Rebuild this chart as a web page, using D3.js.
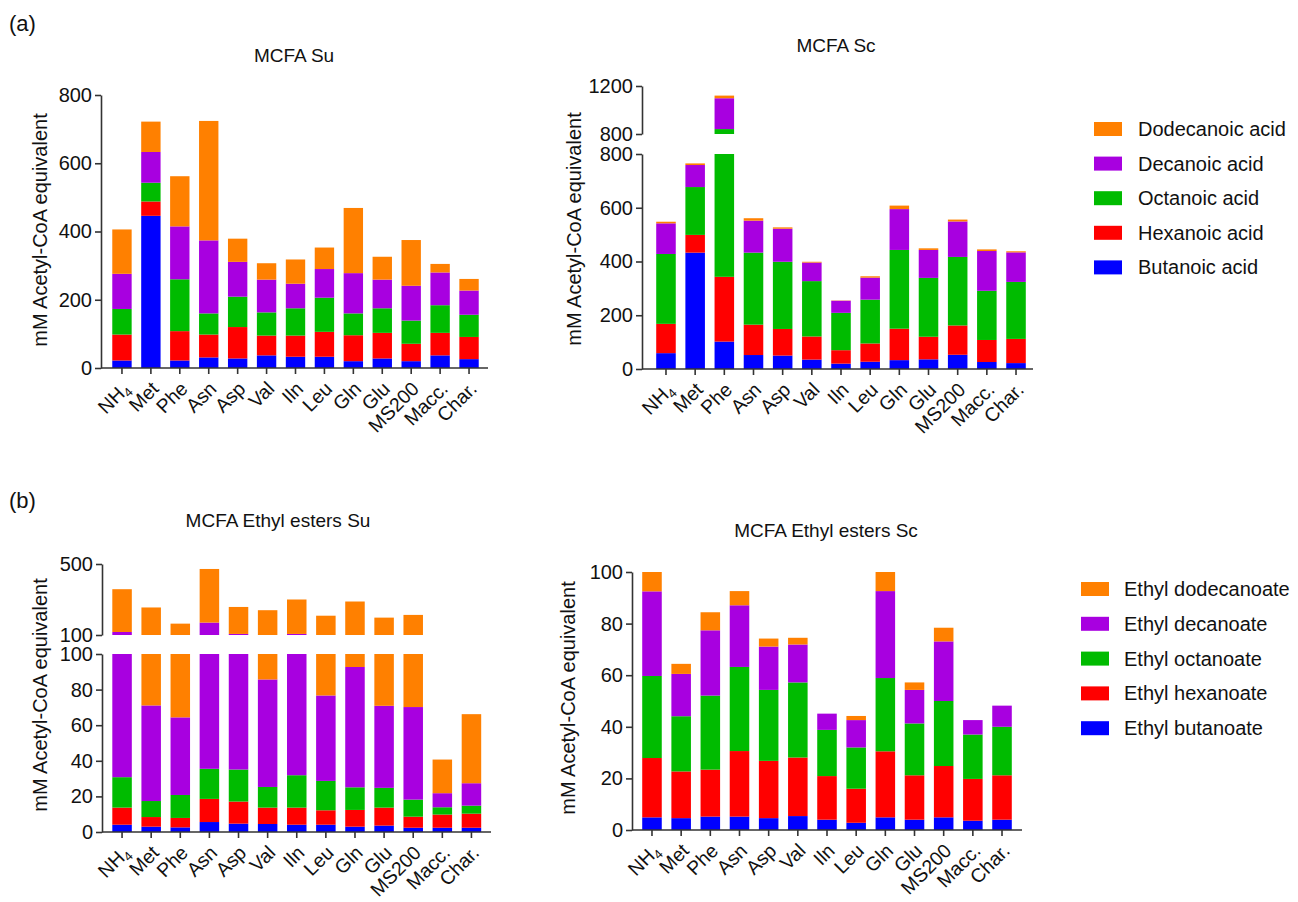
<!DOCTYPE html>
<html>
<head>
<meta charset="utf-8">
<script src="https://cdn.jsdelivr.net/npm/d3@7"></script>
<style>
  html, body { margin: 0; padding: 0; background: #fff; }
  svg { display: block; font-family: Arial, "Liberation Sans", sans-serif; }
</style>
</head>
<body>
<svg id="chart" width="1298" height="902"></svg>
<script>
// ---------------- DATA ----------------
const categories = ["NH4", "Met", "Phe", "Asn", "Asp", "Val", "Iln", "Leu", "Gln", "Glu", "MS200", "Macc.", "Char."];

const acidSeries = ["Butanoic acid", "Hexanoic acid", "Octanoic acid", "Decanoic acid", "Dodecanoic acid"];
const esterSeries = ["Ethyl butanoate", "Ethyl hexanoate", "Ethyl octanoate", "Ethyl decanoate", "Ethyl dodecanoate"];
const seriesColors = ["#0000ff", "#ff0000", "#00bb00", "#a800e0", "#ff8000"];

// (a) MCFA Su (segment values, bottom to top)
const suButanoic  = [22, 446, 22, 31, 28, 37, 33, 33, 20, 28, 20, 37, 26];
const suHexanoic  = [76, 42, 86, 67, 92, 58, 62, 73, 76, 75, 51, 66, 65];
const suOctanoic  = [75, 55, 152, 62, 89, 68, 80, 100, 64, 72, 68, 81, 65];
const suDecanoic  = [103, 90, 155, 214, 102, 96, 72, 84, 118, 84, 102, 96, 71];
const suDodecanoic = [130, 89, 147, 350, 68, 48, 71, 63, 191, 67, 134, 25, 34];

// (a) MCFA Sc
const scButanoic  = [59, 433, 102, 52, 50, 35, 20, 27, 33, 36, 53, 26, 22];
const scHexanoic  = [109, 66, 241, 113, 99, 86, 50, 68, 117, 84, 109, 82, 90];
const scOctanoic  = [260, 178, 498, 268, 250, 206, 139, 163, 293, 219, 255, 183, 212];
const scDecanoic  = [114, 82, 257, 119, 123, 69, 45, 82, 152, 104, 132, 148, 110];
const scDodecanoic = [6, 6, 22, 9, 5, 3, 1, 5, 13, 6, 7, 6, 4];

// (b) MCFA Ethyl esters Su
const esuButanoate  = [4.1, 3.0, 2.6, 5.6, 4.7, 4.5, 4.1, 4.1, 3.0, 3.6, 2.4, 2.4, 2.4];
const esuHexanoate  = [9.6, 5.4, 5.3, 13.0, 12.4, 9.2, 9.6, 8.1, 9.4, 10.1, 6.2, 7.4, 7.9];
const esuOctanoate  = [17.1, 9.0, 12.9, 16.9, 18.0, 11.6, 18.2, 16.5, 12.7, 11.1, 9.6, 4.1, 4.5];
const esuDecanoate  = [86.2, 53.7, 43.6, 134.5, 70.9, 60.4, 74.1, 48.0, 67.6, 46.1, 52.0, 7.9, 12.6];
const esuDodecanoate = [241, 184, 99.6, 302, 152, 154, 194, 132, 196, 127, 143, 18.9, 38.8];

// (b) MCFA Ethyl esters Sc
const escButanoate  = [4.9, 4.6, 5.2, 5.2, 4.6, 5.4, 4.0, 2.8, 4.9, 4.0, 4.9, 3.6, 4.0];
const escHexanoate  = [23.0, 18.1, 18.2, 25.4, 22.2, 22.7, 16.9, 13.2, 25.6, 17.2, 19.9, 16.2, 17.2];
const escOctanoate  = [31.8, 21.4, 28.7, 32.6, 27.5, 29.1, 17.9, 16.0, 28.4, 20.1, 25.2, 17.2, 18.8];
const escDecanoate  = [32.8, 16.4, 25.3, 23.9, 16.8, 14.7, 6.3, 10.6, 33.7, 13.0, 23.1, 5.6, 8.2];
const escDodecanoate = [7.5, 3.9, 7.0, 5.5, 3.1, 2.6, 0, 1.6, 7.4, 2.9, 5.3, 0, 0];

// tick values
const ticksA = [0, 200, 400, 600, 800];
const ticksAUpper = [800, 1200];
const ticksB = [0, 20, 40, 60, 80, 100];
const ticksBUpper = [100, 500];

// ---------------- DRAWING ----------------
const svg = d3.select("#chart");
const FONT = 'Arial, "Liberation Sans", sans-serif';
const axisColor = "#333";
const fmt = d3.format("d");

function buildRows(seriesArrays) {
  return categories.map((c, i) => {
    const r = { cat: c };
    seriesArrays.forEach((arr, k) => { r["s" + k] = arr[i]; });
    return r;
  });
}

function drawPanel(cfg) {
  const g = svg.append("g");
  const rows = buildRows(cfg.series);
  const keys = cfg.series.map((_, k) => "s" + k);
  const stacked = d3.stack().keys(keys)(rows);

  const x = d3.scaleBand().domain(categories).range(cfg.xRange).paddingInner(0.33).paddingOuter(0.165);
  const yLow = d3.scaleLinear().domain(cfg.lowDomain).range(cfg.lowRange);
  const yUp = cfg.upDomain ? d3.scaleLinear().domain(cfg.upDomain).range(cfg.upRange) : null;
  const brk = cfg.lowDomain[1];

  // bars
  stacked.forEach((layer, k) => {
    layer.forEach((d, i) => {
      const v0 = d[0], v1 = d[1];
      if (v1 - v0 <= 0) return;
      const bx = x(categories[i]);
      const bw = x.bandwidth();
      if (v0 < brk) {
        const top = Math.min(v1, brk);
        g.append("rect").attr("x", bx).attr("width", bw)
          .attr("y", yLow(top)).attr("height", yLow(v0) - yLow(top))
          .attr("fill", seriesColors[k]);
      }
      if (yUp && v1 > brk) {
        const bot = Math.max(v0, brk);
        g.append("rect").attr("x", bx).attr("width", bw)
          .attr("y", yUp(v1)).attr("height", yUp(bot) - yUp(v1))
          .attr("fill", seriesColors[k]);
      }
    });
  });

  // y axis lower
  const yAxLow = d3.axisLeft(yLow).tickValues(cfg.ticks).tickFormat(fmt).tickSize(6).tickSizeOuter(0).tickPadding(3);
  g.append("g").attr("transform", `translate(${cfg.axisX},0)`).call(yAxLow);
  if (yUp) {
    const yAxUp = d3.axisLeft(yUp).tickValues(cfg.ticksUp).tickFormat(fmt).tickSize(6).tickSizeOuter(0).tickPadding(3);
    g.append("g").attr("transform", `translate(${cfg.axisX},0)`).call(yAxUp);
  }
  // x axis
  const xAx = d3.axisBottom(x).tickSize(6).tickSizeOuter(0).tickFormat("");
  const gx = g.append("g").attr("transform", `translate(0,${cfg.lowRange[0]})`).call(xAx);
  gx.select(".domain").attr("d", `M${cfg.axisX},0H${cfg.xEnd}`);

  g.selectAll(".domain, .tick line").attr("stroke", axisColor).attr("stroke-width", 1.6);
  g.selectAll(".tick text").attr("font-family", FONT).attr("font-size", 20).attr("fill", "#111");

  // x labels rotated
  categories.forEach((c) => {
    const cx = x(c) + x.bandwidth() / 2;
    const t = g.append("text")
      .attr("transform", `translate(${cx + 9},${cfg.lowRange[0] + 22}) rotate(-45)`)
      .attr("text-anchor", "end")
      .attr("font-family", FONT).attr("font-size", 19.5).attr("fill", "#111");
    if (c === "NH4") {
      t.append("tspan").text("NH");
      t.append("tspan").text("4").attr("font-size", 13).attr("dy", 4);
    } else {
      t.text(c);
    }
  });

  // y label
  g.append("text")
    .attr("transform", `translate(${cfg.yLabelX},${cfg.yLabelY}) rotate(-90)`)
    .attr("text-anchor", "middle")
    .attr("font-family", FONT).attr("font-size", 20).attr("fill", "#111")
    .text("mM Acetyl-CoA equivalent");

  // title
  g.append("text")
    .attr("x", cfg.titleX).attr("y", cfg.titleY)
    .attr("text-anchor", "middle")
    .attr("font-family", FONT).attr("font-size", 19).attr("fill", "#111")
    .text(cfg.title);
}

drawPanel({
  series: [suButanoic, suHexanoic, suOctanoic, suDecanoic, suDodecanoic],
  xRange: [107.5, 483.5], axisX: 101, xEnd: 488,
  lowDomain: [0, 800], lowRange: [368, 95], ticks: ticksA,
  yLabelX: 47, yLabelY: 230, title: "MCFA Su", titleX: 294, titleY: 62
});

drawPanel({
  series: [scButanoic, scHexanoic, scOctanoic, scDecanoic, scDodecanoic],
  xRange: [651.4, 1030.6], axisX: 642, xEnd: 1033,
  lowDomain: [0, 800], lowRange: [369, 154], ticks: ticksA,
  upDomain: [800, 1200], upRange: [134, 86], ticksUp: ticksAUpper,
  yLabelX: 581, yLabelY: 229, title: "MCFA Sc", titleX: 836, titleY: 52
});

drawPanel({
  series: [esuButanoate, esuHexanoate, esuOctanoate, esuDecanoate, esuDodecanoate],
  xRange: [107.5, 486], axisX: 102, xEnd: 491,
  lowDomain: [0, 100], lowRange: [832, 654], ticks: ticksB,
  upDomain: [100, 500], upRange: [635, 564], ticksUp: ticksBUpper,
  yLabelX: 47, yLabelY: 695, title: "MCFA Ethyl esters Su", titleX: 278, titleY: 527
});

drawPanel({
  series: [escButanoate, escHexanoate, escOctanoate, escDecanoate, escDodecanoate],
  xRange: [637.4, 1016.6], axisX: 632, xEnd: 1022,
  lowDomain: [0, 100], lowRange: [830, 572], ticks: ticksB,
  yLabelX: 575, yLabelY: 698, title: "MCFA Ethyl esters Sc", titleX: 826, titleY: 537
});

// legends
function drawLegend(names, sx, textX, y0, dy) {
  const lg = svg.append("g");
  const order = [4, 3, 2, 1, 0];
  order.forEach((k, r) => {
    const cy = y0 + r * dy;
    lg.append("rect").attr("x", sx).attr("y", cy - 7).attr("width", 28).attr("height", 14).attr("fill", seriesColors[k]);
    lg.append("text").attr("x", textX).attr("y", cy + 7)
      .attr("font-family", FONT).attr("font-size", 20).attr("fill", "#111").text(names[k]);
  });
}
drawLegend(acidSeries, 1094, 1138, 129, 34.6);
drawLegend(esterSeries, 1081, 1124, 589, 34.8);

// panel labels
svg.append("text").attr("x", 9).attr("y", 31).attr("font-family", FONT).attr("font-size", 22).attr("fill", "#111").text("(a)");
svg.append("text").attr("x", 9).attr("y", 508).attr("font-family", FONT).attr("font-size", 22).attr("fill", "#111").text("(b)");
</script>
</body>
</html>
